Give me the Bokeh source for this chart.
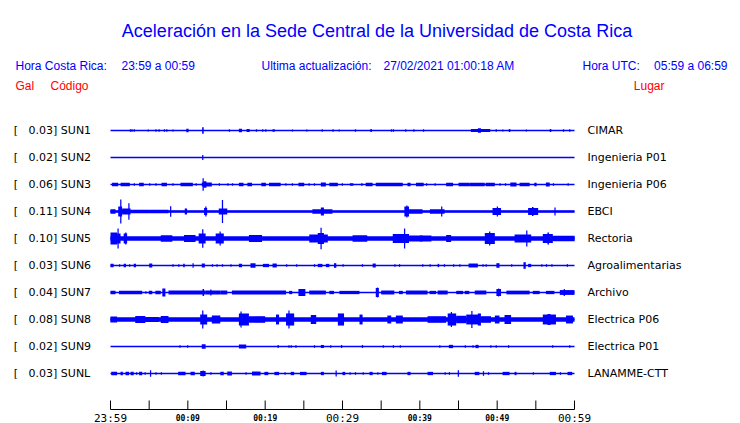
from bokeh.plotting import figure
from bokeh.models import Range1d
from bokeh.core.properties import value
from bokeh.embed import file_html
from bokeh.resources import INLINE

# ---------------- data ----------------
TITLE = "Aceleración en la Sede Central de la Universidad de Costa Rica"
HORA_CR = "23:59 a 00:59"
ACTUALIZACION = "27/02/2021 01:00:18 AM"
HORA_UTC = "05:59 a 06:59"

stations = ["SUN1", "SUN2", "SUN3", "SUN4", "SUN5", "SUN6", "SUN7", "SUN8", "SUN9", "SUNL"]
peak_gal = [0.03, 0.02, 0.06, 0.11, 0.10, 0.03, 0.04, 0.08, 0.02, 0.03]
places = ["CIMAR", "Ingenieria P01", "Ingenieria P06", "EBCI", "Rectoria",
          "Agroalimentarias", "Archivo", "Electrica P06", "Electrica P01", "LANAMME-CTT"]
# continuous background noise amplitude (Gal)
noise_gal = [0.0, 0.0, 0.0, 0.011, 0.02, 0.0, 0.0, 0.021, 0.0, 0.0]

# bursts: (start minute, end minute, amplitude in Gal), minutes after 23:59
sun1 = [(2.5, 2.5, .012), (2.7, 2.7, .012), (3.0, 3.0, .012), (4.8, 4.8, .009), (5.8, 5.8, .012),
        (6.2, 6.2, .012), (6.9, 6.9, .012), (7.2, 7.2, .012), (8.0, 8.0, .009), (9.8, 10.1, .015),
        (11.85, 12.05, .03), (15.3, 15.3, .012), (16.6, 17.0, .015), (17.6, 18.0, .014),
        (18.8, 18.8, .012), (19.6, 19.6, .012), (20.0, 20.0, .012), (20.95, 21.25, .012),
        (23.45, 23.45, .009), (25.3, 25.3, .009), (27.3, 27.3, .012), (28.7, 28.7, .012),
        (29.5, 29.5, .009), (31.6, 31.6, .012), (33.6, 33.8, .014), (36.25, 36.25, .012),
        (36.5, 36.5, .012), (38.1, 38.1, .012), (39.15, 39.15, .012), (40.4, 40.4, .012),
        (46.6, 49.1, .014), (47.5, 47.9, .021), (49.8, 49.8, .012), (50.65, 50.65, .009),
        (51.5, 51.7, .014), (53.7, 53.7, .009), (56.8, 57.0, .014), (58.5, 58.5, .012),
        (59.3, 59.3, .012)]
sun2 = [(11.85, 12.0, .022)]
sun3 = [(0.2, 1.0, .015), (1.3, 2.5, .015), (3.0, 3.0, .012), (3.7, 4.3, .015), (5.0, 5.0, .012),
        (5.8, 5.8, .012), (6.6, 7.3, .015), (8.0, 8.0, .012), (9.05, 10.65, .015), (11.0, 11.0, .012),
        (11.8, 13.1, .018), (11.9, 12.0, .057), (12.0, 12.4, .03), (14.0, 14.0, .012),
        (15.1, 15.1, .012), (15.7, 15.7, .012), (16.6, 17.2, .015), (17.7, 18.3, .015),
        (19.5, 20.1, .015), (20.5, 22.0, .015), (22.6, 22.6, .012), (23.45, 23.45, .012),
        (24.3, 25.05, .015), (25.6, 25.6, .012), (26.3, 26.3, .012), (27.2, 27.85, .018),
        (28.3, 29.4, .015), (29.9, 29.9, .012), (30.95, 31.4, .012), (32.4, 32.6, .012),
        (33.0, 33.9, .015), (34.3, 37.8, .017), (38.4, 38.8, .015), (39.5, 40.5, .015),
        (40.8, 40.8, .012), (41.9, 41.9, .012), (43.4, 44.3, .015), (45.0, 46.4, .015),
        (46.4, 48.4, .016), (48.5, 49.7, .015), (50.3, 50.3, .012), (51.0, 51.0, .012),
        (51.7, 52.5, .018), (52.9, 54.2, .015), (54.8, 55.1, .015), (56.3, 56.8, .018),
        (57.2, 57.2, .012), (59.1, 59.1, .012)]
sun4 = [(0.0, 0.65, .021), (1.0, 1.5, .045), (1.25, 1.35, .11), (1.5, 2.6, .027), (2.3, 2.4, .075),
        (2.6, 5.0, .016), (5.0, 7.5, .016), (7.7, 7.8, .048), (9.6, 9.9, .027), (12.1, 12.5, .032),
        (12.25, 12.35, .045), (14.0, 15.1, .027), (14.4, 14.5, .105), (26.1, 28.7, .02),
        (27.2, 27.6, .036), (38.0, 38.6, .045), (38.25, 38.35, .055), (38.6, 40.35, .02),
        (41.3, 43.2, .02), (42.75, 42.85, .045), (49.4, 50.5, .032), (49.95, 50.05, .045),
        (54.0, 55.3, .032), (54.5, 54.7, .041), (57.4, 57.5, .036)]
sun5 = [(0.0, 0.85, .055), (0.9, 1.0, .091), (0.85, 1.3, .045), (1.7, 2.15, .045), (1.9, 2.0, .055),
        (6.5, 8.0, .03), (9.5, 11.0, .032), (11.4, 12.3, .045), (11.85, 11.95, .085),
        (13.6, 14.65, .045), (14.1, 14.2, .064), (17.9, 19.6, .032), (25.7, 28.1, .036),
        (26.8, 27.6, .05), (27.15, 27.25, .097), (31.3, 33.2, .03), (36.5, 38.6, .041),
        (37.95, 38.05, .091), (38.6, 40.35, .028), (40.0, 41.5, .027), (43.4, 44.05, .032),
        (48.4, 49.7, .05), (48.95, 49.05, .064), (52.25, 54.4, .036), (53.75, 53.85, .073),
        (55.9, 57.2, .041), (56.5, 56.7, .055), (57.2, 60.0, .024)]
sun6 = [(0.0, 0.4, .015), (1.1, 1.1, .012), (1.7, 2.0, .015), (2.4, 2.4, .012), (3.0, 3.3, .015),
        (5.0, 5.4, .018), (8.0, 8.0, .012), (8.75, 8.75, .012), (9.4, 9.6, .015), (10.6, 10.6, .021),
        (11.8, 12.2, .018), (13.1, 13.1, .012), (13.7, 13.7, .012), (14.4, 14.4, .012),
        (15.5, 15.5, .012), (16.6, 17.0, .015), (18.1, 18.75, .021), (19.7, 20.5, .015),
        (20.95, 21.5, .018), (22.7, 22.7, .012), (24.0, 24.0, .012), (26.3, 26.3, .012),
        (26.8, 27.4, .015), (27.85, 28.3, .015), (28.9, 29.2, .021), (30.0, 30.0, .012),
        (32.5, 32.5, .012), (33.9, 34.3, .018), (36.7, 36.7, .012), (37.3, 37.3, .012),
        (40.3, 40.3, .012), (41.25, 41.25, .012), (42.3, 42.5, .015), (43.1, 43.1, .012),
        (44.3, 44.3, .012), (45.1, 45.1, .012), (46.3, 47.5, .018), (48.1, 48.1, .012),
        (48.5, 48.5, .012), (49.9, 50.3, .021), (51.8, 51.8, .012), (53.4, 53.7, .03),
        (54.0, 54.4, .015), (55.7, 55.7, .012), (56.3, 56.3, .012), (57.0, 57.0, .012),
        (59.0, 59.0, .012)]
sun7 = [(0.0, 0.65, .015), (1.1, 4.1, .017), (4.5, 4.5, .012), (4.95, 5.4, .015), (5.8, 6.5, .015),
        (6.7, 7.1, .036), (7.5, 12.3, .018), (11.9, 12.1, .032), (12.3, 14.2, .018),
        (12.9, 13.0, .027), (14.2, 15.1, .018), (15.7, 22.7, .018), (23.1, 23.5, .015),
        (24.3, 25.2, .032), (25.7, 27.85, .018), (28.3, 28.9, .015), (29.6, 32.2, .015),
        (34.3, 34.7, .041), (34.45, 34.55, .045), (35.0, 36.7, .018), (37.3, 37.8, .015),
        (38.2, 41.0, .018), (41.25, 42.1, .015), (42.3, 43.6, .018), (44.7, 45.6, .015),
        (45.8, 46.4, .015), (47.1, 48.6, .018), (49.9, 50.5, .032), (50.1, 50.2, .036),
        (51.2, 54.2, .017), (54.6, 55.5, .015), (56.3, 57.4, .015), (58.1, 60.0, .022),
        (58.6, 58.7, .032)]
sun8 = [(0.0, 0.85, .027), (3.2, 4.5, .032), (4.5, 6.25, .023), (6.5, 7.5, .032), (11.6, 12.5, .045),
        (11.85, 11.95, .082), (13.1, 14.2, .036), (16.6, 17.9, .055), (16.8, 16.9, .073),
        (17.9, 20.0, .03), (21.4, 21.8, .045), (22.7, 23.75, .055), (23.0, 23.1, .082),
        (25.9, 26.6, .041), (29.4, 30.2, .055), (32.2, 32.6, .045), (35.8, 36.3, .036),
        (36.9, 37.8, .036), (41.0, 43.4, .03), (43.6, 44.7, .055), (44.0, 44.1, .068),
        (44.7, 46.0, .034), (46.0, 47.7, .045), (46.65, 46.75, .077), (47.5, 47.9, .055),
        (47.9, 49.2, .03), (49.7, 50.3, .036), (50.95, 51.8, .041), (55.9, 57.6, .045),
        (56.5, 56.9, .05), (58.9, 59.8, .036)]
sun9 = [(8.9, 8.9, .012), (9.9, 9.9, .012), (11.8, 12.3, .021), (16.6, 17.55, .018), (21.6, 21.6, .014),
        (23.0, 23.0, .012), (23.3, 23.3, .012), (23.9, 23.9, .012), (26.3, 26.3, .012),
        (27.2, 27.6, .014), (28.4, 28.4, .012), (29.8, 29.8, .014), (32.5, 32.5, .014),
        (35.2, 35.2, .012), (36.5, 36.5, .012), (37.4, 37.4, .012), (42.5, 42.5, .012),
        (43.75, 44.3, .015), (45.8, 45.8, .012), (46.8, 46.8, .012), (47.2, 47.6, .015),
        (49.1, 49.1, .012), (49.8, 49.8, .012), (51.4, 51.4, .012), (57.1, 57.1, .012),
        (59.3, 59.3, .012)]
sunl = [(0.1, 0.85, .015), (1.3, 1.6, .015), (1.95, 2.4, .015), (2.6, 3.0, .015), (3.3, 3.3, .012),
        (3.7, 4.1, .015), (4.4, 4.4, .012), (5.1, 5.1, .03), (5.8, 5.8, .012), (6.5, 6.5, .012),
        (8.75, 9.7, .015), (10.35, 10.9, .015), (11.6, 12.3, .023), (11.9, 12.0, .027),
        (12.9, 12.9, .012), (14.2, 14.65, .015), (15.1, 15.7, .018), (17.45, 17.45, .012),
        (18.3, 19.4, .018), (19.9, 20.4, .015), (21.2, 21.8, .015), (22.5, 22.5, .012),
        (23.3, 23.75, .015), (24.5, 25.35, .015), (27.2, 27.6, .015), (29.1, 29.1, .027),
        (30.0, 30.35, .015), (30.9, 30.9, .012), (31.6, 31.6, .012), (32.6, 32.6, .012),
        (33.5, 33.9, .015), (34.5, 34.5, .012), (35.1, 35.7, .015), (38.4, 38.8, .015),
        (41.0, 41.7, .015), (43.2, 43.2, .012), (43.75, 43.75, .012), (44.9, 44.9, .03),
        (47.1, 47.7, .015), (48.15, 48.15, .021), (48.8, 48.8, .012), (50.7, 51.6, .015),
        (52.25, 52.5, .015), (54.6, 54.6, .012), (56.8, 57.6, .015), (58.1, 58.1, .012),
        (59.1, 59.7, .015)]
bursts = [sun1, sun2, sun3, sun4, sun5, sun6, sun7, sun8, sun9, sunl]

DURATION_MIN = 60
tick_minutes = [0, 5, 10, 15, 20, 25, 30, 35, 40, 45, 50, 55, 60]
major_ticks = [0, 30, 60]
major_labels = ["23:59", "00:29", "00:59"]
minor_ticks = [10, 20, 40, 50]
minor_labels = ["00:09", "00:19", "00:39", "00:49"]

# ---------------- layout / style ----------------
W, H = 740, 423
OFF = 0  # the figure sits at the page origin
X0_PX, X1_PX = 110, 574          # px of 23:59 and 00:59
ROW0_PX, ROW_PX = 130, 27        # px of first trace, spacing
PX_PER_MIN = (X1_PX - X0_PX) / DURATION_MIN
GAL_PX = 110.0                   # px per Gal
ROWS_PER_GAL = GAL_PX / ROW_PX
BLUE = "#0000FF"
RED = "#FF0000"
NBSP = "\u00a0"


def px_x(px):
    return (px - X0_PX) / PX_PER_MIN


def px_y(py):
    return (py - ROW0_PX) / ROW_PX


p = figure(width=W, height=H,
           x_range=Range1d(px_x(OFF), px_x(OFF + W)),
           y_range=Range1d(px_y(OFF + H), px_y(OFF)),
           x_axis_type=None, y_axis_type=None,
           output_backend="svg", toolbar_location=None,
           min_border=0, outline_line_color=None)
p.grid.visible = False
p.background_fill_color = "white"
p.border_fill_color = "white"

# traces
for i, (ev, nz) in enumerate(zip(bursts, noise_gal)):
    p.segment(x0=[0], y0=[i], x1=[DURATION_MIN], y1=[i], line_color=BLUE, line_width=1.6)
    if nz > 0:
        p.quad(left=[0], right=[DURATION_MIN], bottom=[i - nz * ROWS_PER_GAL],
               top=[i + nz * ROWS_PER_GAL], fill_color=BLUE, line_color=None)
    left = [a for a, b, g in ev]
    right = [max(b, a + 0.16) for a, b, g in ev]
    amp = [g * ROWS_PER_GAL for a, b, g in ev]
    p.quad(left=left, right=right, bottom=[i - h for h in amp], top=[i + h for h in amp],
           fill_color=BLUE, line_color=None)

# station labels
rows = list(range(len(stations)))
left_txt = ["[" + NBSP * 3 + "%.2f] %s" % (g, s) for g, s in zip(peak_gal, stations)]
p.text(x=[px_x(13.3)] * len(rows), y=rows, text=left_txt, text_font=value("DejaVu Sans"),
       text_font_size="11px", text_baseline="middle", text_align="left", text_color="black")
p.text(x=[px_x(587)] * len(rows), y=rows, text=places, text_font=value("DejaVu Sans"),
       text_font_size="11px", text_baseline="middle", text_align="left", text_color="black")

# header
p.text(x=[px_x(376.5)], y=[px_y(30)], text=[TITLE], text_font=value("Liberation Sans"),
       text_font_size="18px", text_align="center", text_baseline="alphabetic", text_color=BLUE)
hdr = dict(text_font=value("Liberation Sans"), text_font_size="12px", text_baseline="alphabetic")
p.text(x=[px_x(15), px_x(121), px_x(261), px_x(383), px_x(582)],
       y=[px_y(65)] * 5,
       text=["Hora Costa Rica:", HORA_CR, "Ultima actualización:", ACTUALIZACION, "Hora UTC:"],
       text_align="left", text_color=BLUE, **hdr)
p.text(x=[px_x(727)], y=[px_y(65)], text=[HORA_UTC], text_align="right", text_color=BLUE, **hdr)
p.text(x=[px_x(15), px_x(50)], y=[px_y(85)] * 2, text=["Gal", "Código"],
       text_align="left", text_color=RED, **hdr)
p.text(x=[px_x(664)], y=[px_y(85)], text=["Lugar"], text_align="right", text_color=RED, **hdr)

# time axis
AX_PX = 409
p.segment(x0=[0], y0=[px_y(AX_PX)], x1=[DURATION_MIN], y1=[px_y(AX_PX)], line_color="black", line_width=1)
p.segment(x0=tick_minutes, y0=[px_y(AX_PX - 9)] * len(tick_minutes), x1=tick_minutes,
          y1=[px_y(AX_PX)] * len(tick_minutes), line_color="black", line_width=1)
p.text(x=major_ticks, y=[px_y(417.5)] * 3, text=major_labels, text_font=value("DejaVu Sans Mono"),
       text_font_size="11px", text_align="center", text_baseline="alphabetic", text_color="black")
p.text(x=minor_ticks, y=[px_y(417.5)] * 4, text=minor_labels, text_font=value("DejaVu Sans Mono"),
       text_font_size="8px", text_font_style="bold", text_align="center", text_baseline="alphabetic",
       text_color="black")

open("out.html", "w").write(file_html(p, INLINE))
